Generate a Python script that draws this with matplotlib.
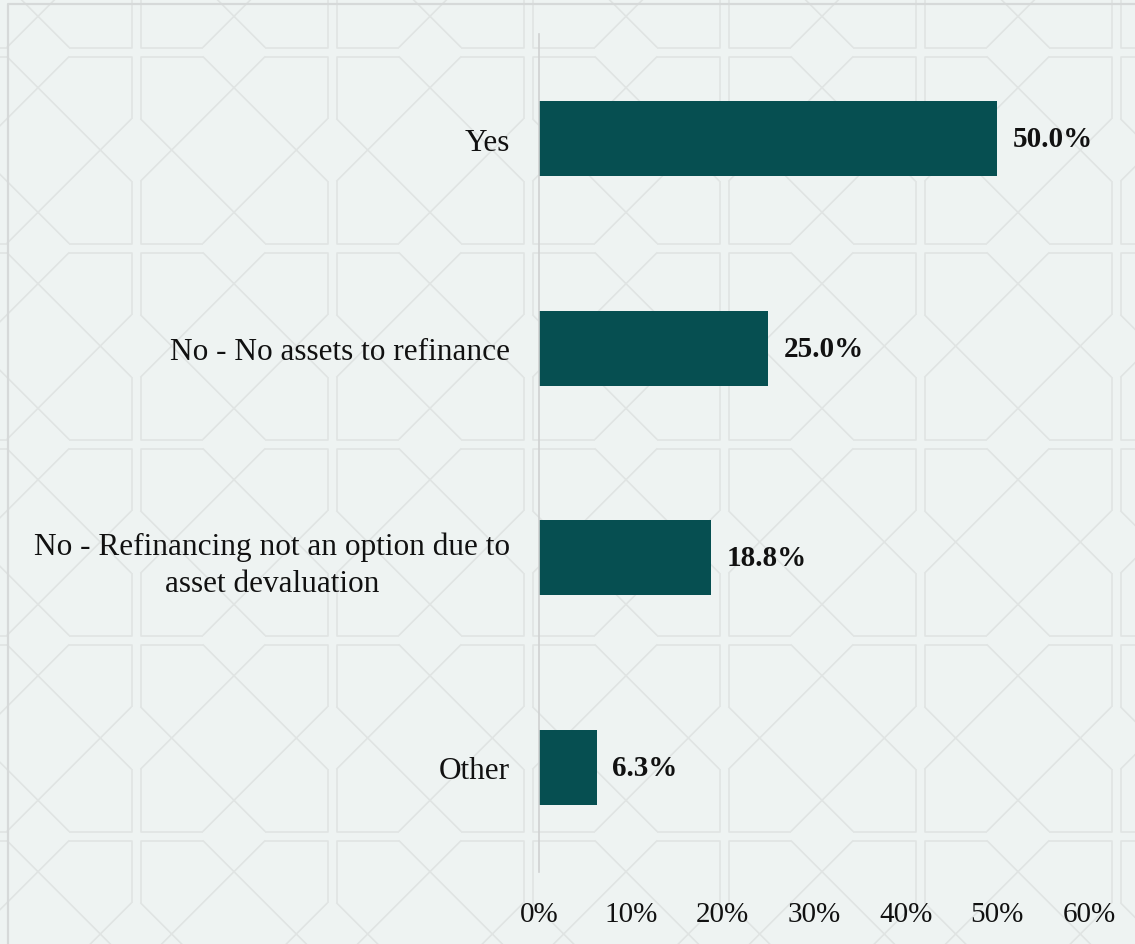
import matplotlib
matplotlib.use("Agg")
import matplotlib.pyplot as plt
from matplotlib.collections import LineCollection

# Survey answers and their shares (%)
categories = [
    "Yes",
    "No - No assets to refinance",
    "No - Refinancing not an option due to\nasset devaluation",
    "Other",
]
values = [50.0, 25.0, 18.8, 6.3]
tick_values = [0, 10, 20, 30, 40, 50, 60]

BAR_COLOR = "#064f51"
BG_COLOR = "#eef3f2"
PATTERN_COLOR = "#e0e4e3"
TEXT_COLOR = "#111111"

plt.rcParams["font.family"] = ["Liberation Serif", "DejaVu Serif"]

W, H = 1135, 945
fig = plt.figure(figsize=(W / 100, H / 100), dpi=100, facecolor=BG_COLOR)

# decorative lattice background, drawn in pixel units
bg = fig.add_axes([0, 0, 1, 1], zorder=0)
bg.set_xlim(0, W)
bg.set_ylim(H, 0)
bg.axis("off")

period = 196.0
x0, y0 = 136.0, 53.0   # centres of the double lattice lines
half = 4.5             # half gap between the two strands
segs = []
for i in range(-1, 7):
    for j in range(-1, 6):
        L = x0 + i * period + half
        R = x0 + (i + 1) * period - half
        T = y0 + j * period + half
        B = y0 + (j + 1) * period - half
        a = (R - L) / 3
        # corner brackets
        segs += [
            [(L, T + a), (L, T), (L + a, T)],
            [(R - a, T), (R, T), (R, T + a)],
            [(R, B - a), (R, B), (R - a, B)],
            [(L + a, B), (L, B), (L, B - a)],
        ]
        # crossing diagonals
        segs += [
            [(L + a, T), (R, B - a)],
            [(L, T + a), (R - a, B)],
            [(R - a, T), (L, B - a)],
            [(R, T + a), (L + a, B)],
        ]
bg.add_collection(LineCollection(segs, colors=PATTERN_COLOR, linewidths=1.2))
# outer frame
bg.plot([8, 8, W + 5], [H + 5, 5, 5], color="#d6d9d9", lw=1.6)

# main chart
ax = fig.add_axes([539 / W, 1 - 873 / H, (1089 - 539) / W, (873 - 35) / H], zorder=1)
ax.patch.set_alpha(0)

pos = list(range(len(categories)))
ax.barh(pos, values, height=0.358, color=BAR_COLOR)

for p, v in zip(pos, values):
    ax.annotate(f"{v:.1f}%", (v, p), xytext=(11, 0), textcoords="offset points",
                ha="left", va="center", fontsize=21, fontweight="bold", color=TEXT_COLOR)

ax.set_xlim(0, 60)
ax.set_ylim(len(categories) - 0.5, -0.5)
ax.set_xticks(tick_values)
ax.set_xticklabels([f"{t}%" for t in tick_values])
ax.set_yticks(pos)
ax.set_yticklabels(categories, multialignment="center", linespacing=1.35)

for s in ["top", "right", "bottom"]:
    ax.spines[s].set_visible(False)
ax.spines["left"].set_color("#cfd1d1")
ax.spines["left"].set_linewidth(1.2)

ax.tick_params(axis="x", length=0, pad=21, labelsize=21, labelcolor=TEXT_COLOR)
ax.tick_params(axis="y", length=0, pad=21, labelsize=22.5, labelcolor=TEXT_COLOR)

fig.savefig("out.png", dpi=100, facecolor=BG_COLOR)
